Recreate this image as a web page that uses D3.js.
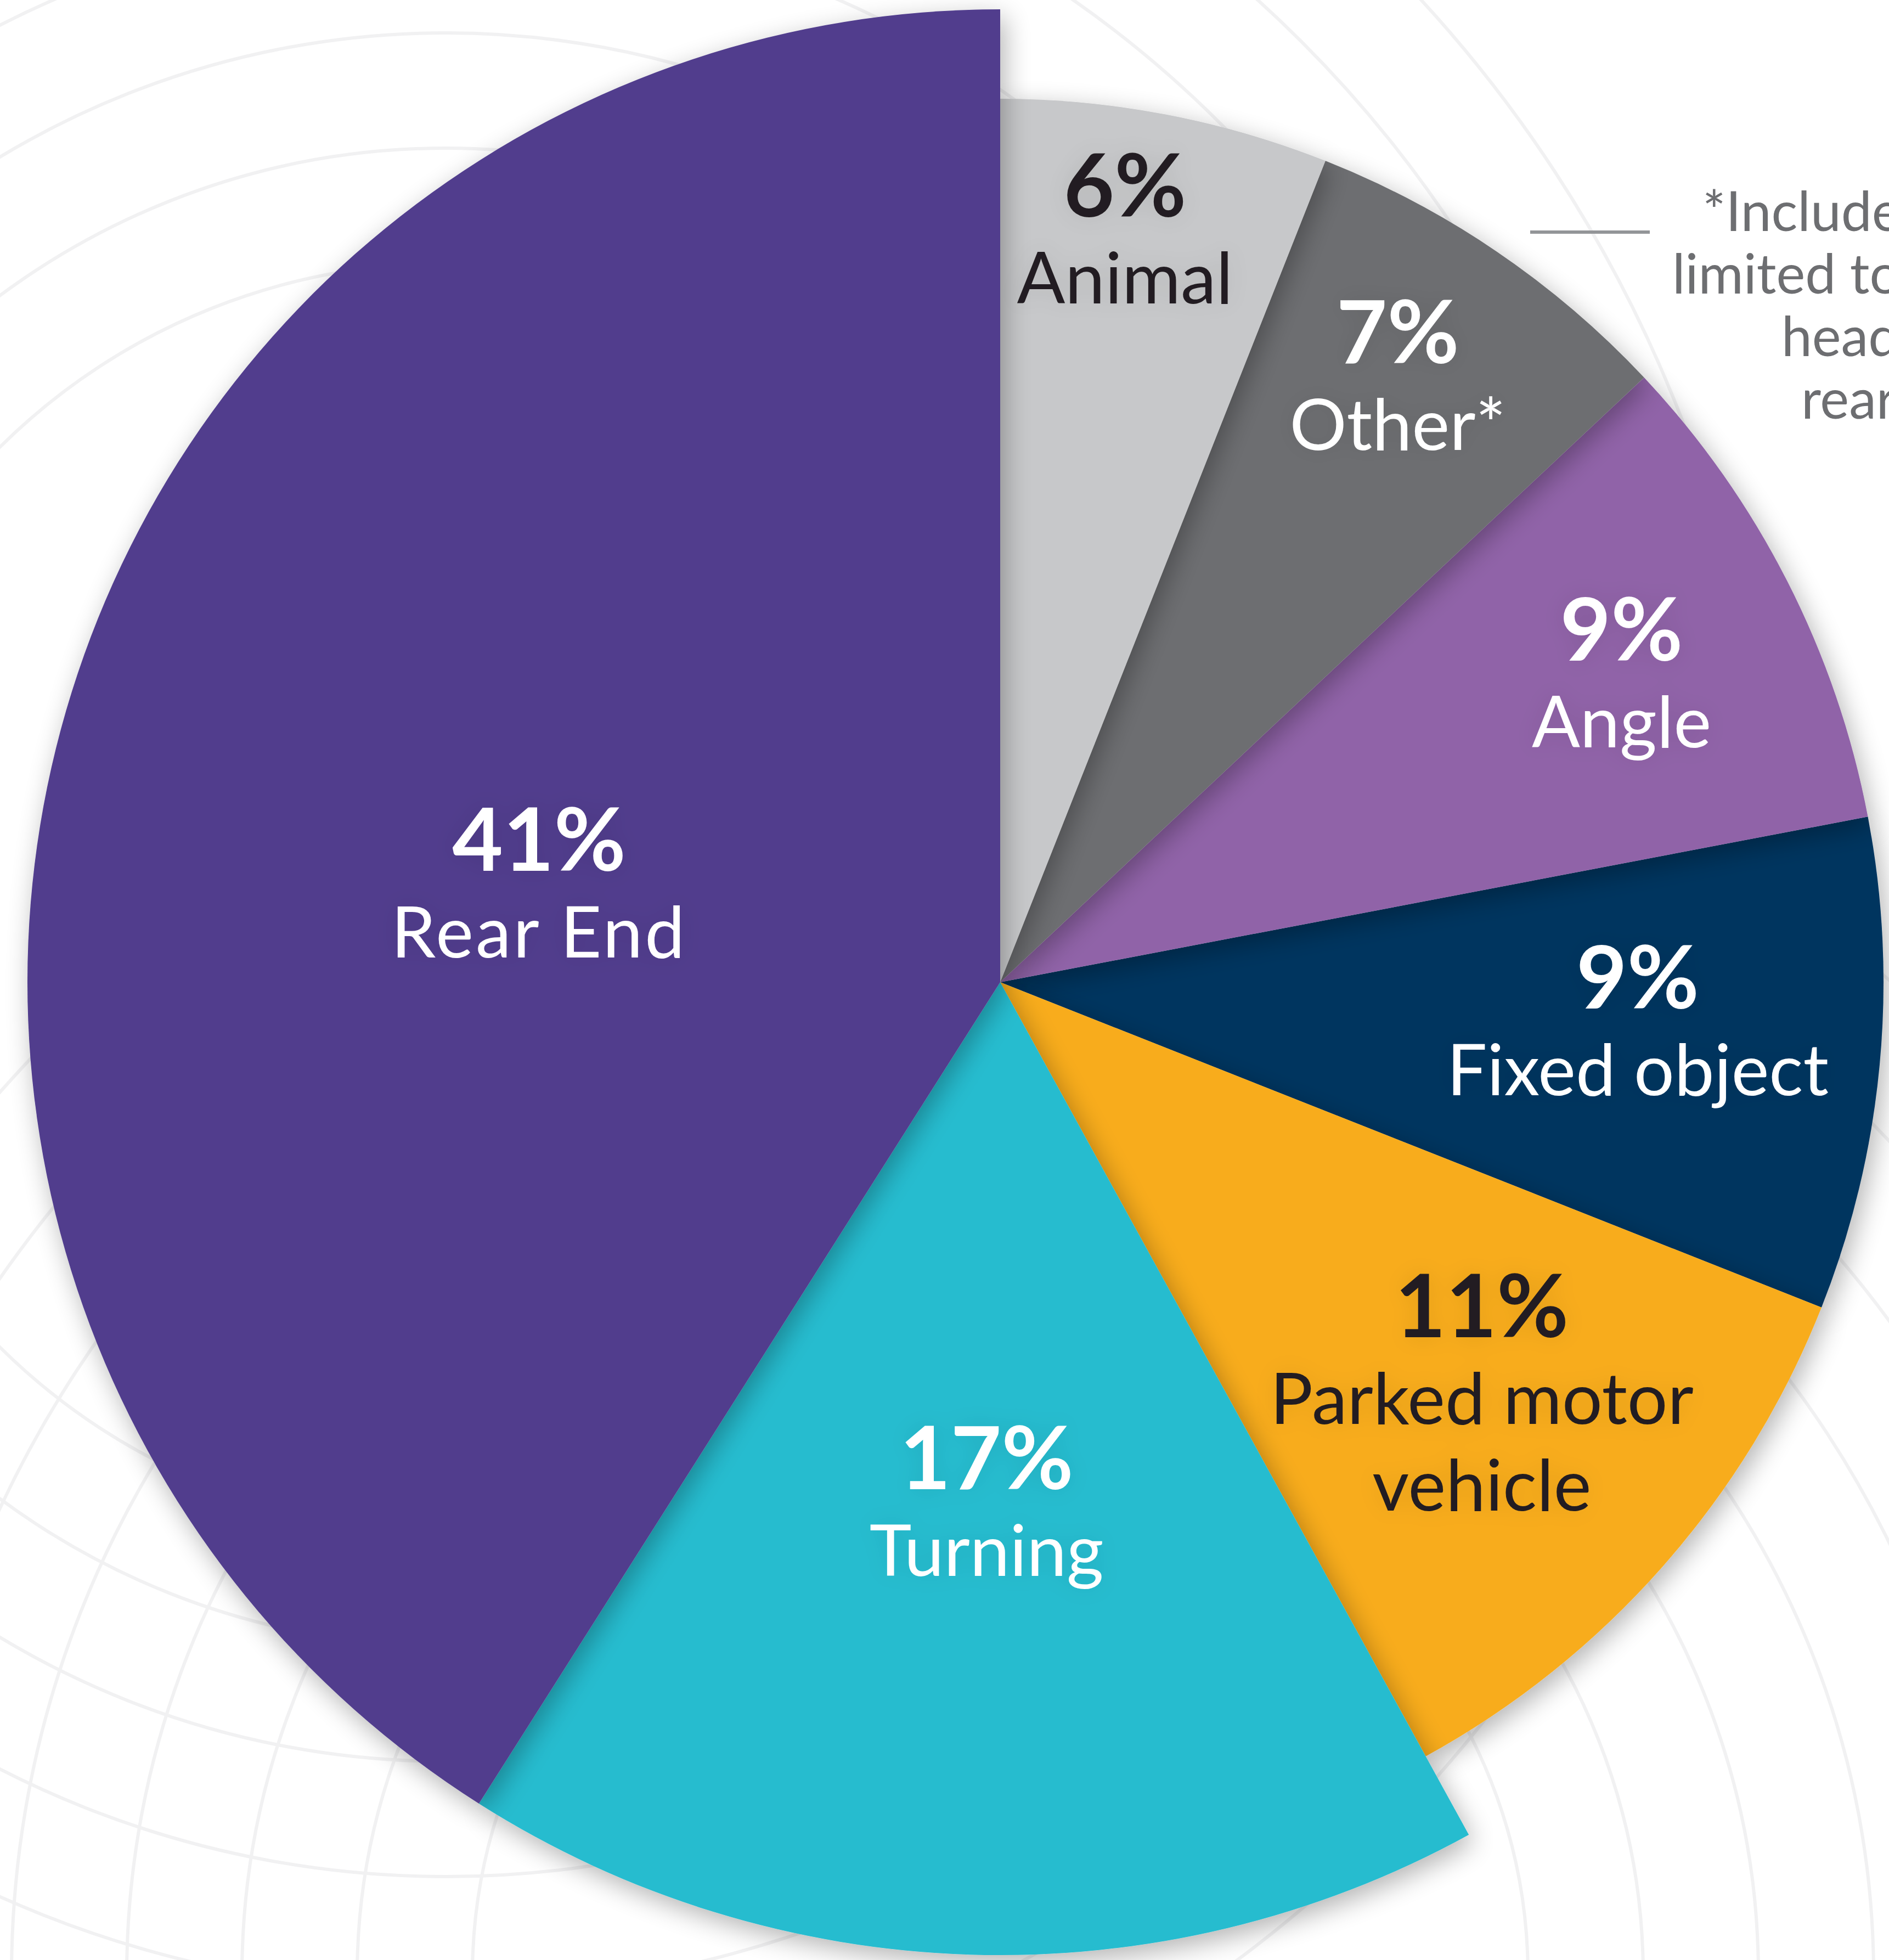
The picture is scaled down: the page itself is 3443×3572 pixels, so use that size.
<!DOCTYPE html>
<html>
<head>
<meta charset="utf-8">
<script src="https://cdn.jsdelivr.net/npm/d3@7"></script>
<style>
  html, body { margin: 0; padding: 0; background: #ffffff; }
  svg { display: block; }
  .pct { font-family: "Lato", "Noto Sans", sans-serif; font-weight: 700; }
  .name { font-family: "Lato", "Noto Sans", sans-serif; font-weight: 400; }
  .note { font-family: "Lato", "Noto Sans", sans-serif; font-weight: 400; fill: #6d6e71; }
</style>
</head>
<body>
<div id="chart"></div>
<script>
// crash types, clockwise from 12 o'clock
const categories = ["Animal", "Other*", "Angle", "Fixed object", "Parked motor vehicle", "Turning", "Rear End"];
const shares = [6, 7, 9, 9, 11, 17, 41];
const nameLines = [["Animal"], ["Other*"], ["Angle"], ["Fixed object"], ["Parked motor", "vehicle"], ["Turning"], ["Rear End"]];
const sliceColors = ["#c7c8ca", "#6d6e71", "#9063a8", "#00365f", "#f8ac1d", "#25bccf", "#513e8d"];
const labelColors = ["#231f20", "#ffffff", "#ffffff", "#ffffff", "#231f20", "#ffffff", "#ffffff"];
const footnoteLines = ["*Includes but not", "limited to: sideswipe,", "head on, rear to", "rear, etc."];

const W = 3443, H = 3572;
const cx = 1823, cy = 1790;

const data = categories.map((c, i) => ({
    name: c, value: shares[i], lines: nameLines[i],
    color: sliceColors[i], text: labelColors[i]
}));

// the two biggest shares stick out further than the rest
const radius = d3.scaleThreshold().domain([15]).range([1610, 1773]);

// label placement tweaks: fraction of the slice radius, angle shift in degrees
const labelLayout = {
    "Animal": [0.865, -1.4], "Other*": [0.822, -1], "Angle": [0.786, 0.5],
    "Fixed object": [0.723, -2], "Parked motor vehicle": [0.716, -1],
    "Turning": [0.533, -0.3], "Rear End": [0.485, -4]
};
// order the slices are painted in, so shadows fall like the original
const drawOrder = ["Fixed object", "Angle", "Other*", "Animal", "Parked motor vehicle", "Turning", "Rear End"];

const svg = d3.select("#chart").append("svg")
    .attr("width", W)
    .attr("height", H);

const defs = svg.append("defs");

let sh = defs.append("filter").attr("id", "shadow")
    .attr("x", "-30%").attr("y", "-30%").attr("width", "160%").attr("height", "160%");
sh.append("feGaussianBlur").attr("in", "SourceAlpha").attr("stdDeviation", 24);
sh.append("feOffset").attr("dx", 8).attr("dy", 14).attr("result", "off");
sh.append("feComponentTransfer").append("feFuncA").attr("type", "linear").attr("slope", 0.3);
let m = sh.append("feMerge");
m.append("feMergeNode");
m.append("feMergeNode").attr("in", "SourceGraphic");

let glow = defs.append("filter").attr("id", "glow")
    .attr("x", "-30%").attr("y", "-40%").attr("width", "160%").attr("height", "180%");
glow.append("feGaussianBlur").attr("in", "SourceAlpha").attr("stdDeviation", 22);
glow.append("feComponentTransfer").append("feFuncA").attr("type", "linear").attr("slope", 0.1);
let m2 = glow.append("feMerge");
m2.append("feMergeNode");
m2.append("feMergeNode").attr("in", "SourceGraphic");

// faint ripple rings in the background
const rings = svg.append("g")
    .attr("fill", "none")
    .attr("stroke", "#f1f1f2")
    .attr("stroke-width", 6);

[{x: 813, y: 1635, r0: 1155, n: 7}, {x: 1823, y: 3600, r0: 962, n: 8}].forEach(f => {
    rings.selectAll(null)
        .data(d3.range(f.n))
        .enter().append("circle")
        .attr("cx", f.x)
        .attr("cy", f.y)
        .attr("r", k => f.r0 + k * 210);
});

// pie
const pie = d3.pie().sort(null).value(d => d.value).startAngle(0).endAngle(2 * Math.PI);
const arcs = pie(data);

const arc = d3.arc()
    .innerRadius(0)
    .outerRadius(d => radius(d.data.value));

const g = svg.append("g").attr("transform", "translate(" + cx + "," + cy + ")");

const ordered = drawOrder.map(n => arcs.find(a => a.data.name === n));

g.selectAll(".slice")
    .data(ordered)
    .enter().append("path")
    .attr("class", "slice")
    .attr("d", arc)
    .attr("fill", d => d.data.color)
    .attr("filter", "url(#shadow)");

// labels
const pctSize = 160, nameSize = 130, lineH = 158, capPct = 116;

const labels = g.selectAll(".label")
    .data(arcs)
    .enter().append("g")
    .attr("class", "label")
    .attr("filter", "url(#glow)")
    .attr("transform", d => {
        let lay = labelLayout[d.data.name];
        let a = (d.startAngle + d.endAngle) / 2 + lay[1] * Math.PI / 180;
        let r = radius(d.data.value) * lay[0];
        let x = r * Math.sin(a);
        let y = -r * Math.cos(a);
        // move so the middle of the text block sits on the anchor point
        let n = d.data.lines.length;
        let off = (n * lineH - capPct) / 2;
        return "translate(" + x + "," + (y - off) + ")";
    });

labels.append("text")
    .attr("class", "pct")
    .attr("text-anchor", "middle")
    .attr("font-size", pctSize)
    .attr("fill", d => d.data.text)
    .text(d => d.data.value + "%");

labels.selectAll(".name")
    .data(d => d.data.lines.map(t => ({t: t, c: d.data.text, wide: t === "Rear End"})))
    .enter().append("text")
    .attr("class", "name")
    .attr("text-anchor", "middle")
    .attr("font-size", nameSize)
    .attr("letter-spacing", d => d.wide ? 4 : 0)
    .attr("y", (d, i) => (i + 1) * lineH)
    .attr("fill", d => d.c)
    .text(d => d.t);

// footnote, running off the right edge as in the original
svg.append("line")
    .attr("x1", 2789).attr("x2", 3007)
    .attr("y1", 423).attr("y2", 423)
    .attr("stroke", "#939598")
    .attr("stroke-width", 6);

const noteX = [3103, 3048, 3247, 3283];
svg.selectAll(".note")
    .data(footnoteLines)
    .enter().append("text")
    .attr("class", "note")
    .attr("font-size", 100)
    .attr("x", (d, i) => noteX[i])
    .attr("y", (d, i) => 421 + i * 114)
    .text(d => d);
</script>
</body>
</html>
